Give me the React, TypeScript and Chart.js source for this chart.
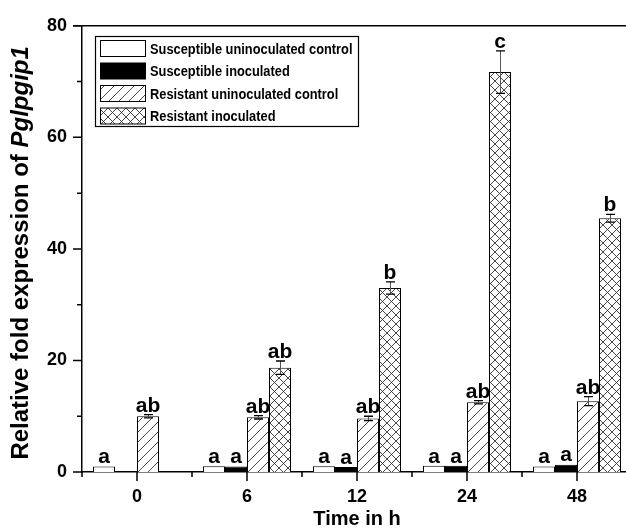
import React, { useEffect, useRef } from "react";
import { Chart, registerables } from "chart.js";

Chart.register(...registerables);

const categories = ["0", "6", "12", "24", "48"];
const seriesNames = [
  "Susceptible uninoculated control",
  "Susceptible inoculated",
  "Resistant uninoculated control",
  "Resistant inoculated",
];
const suscUninoc = [1.0, 1.05, 1.05, 1.1, 1.0];
const suscInoc = [null, 1.0, 0.9, 1.1, 1.3];
const resUninoc = [10.0, 9.8, 9.6, 12.5, 12.7];
const resInoc = [null, 18.7, 33.0, 71.7, 45.5];

const suscUninocErr = [0.05, 0.05, 0.05, 0.05, 0.05];
const suscInocErr = [null, 0.05, 0.05, 0.05, 0.05];
const resUninocErr = [0.3, 0.3, 0.4, 0.3, 0.8];
const resInocErr = [null, 1.2, 1.1, 3.8, 0.7];

const suscUninocLetters = ["a", "a", "a", "a", "a"];
const suscInocLetters = ["", "a", "a", "a", "a"];
const resUninocLetters = ["ab", "ab", "ab", "ab", "ab"];
const resInocLetters = ["", "ab", "b", "c", "b"];

const yTicksMajor = [0, 20, 40, 60, 80];
const yTicksMinor = [10, 30, 50, 70];

const FONT = "Arial, 'Liberation Sans', sans-serif";

function makeDiag(): CanvasPattern | string {
  const c = document.createElement("canvas");
  const s = 10;
  c.width = s;
  c.height = s;
  const g = c.getContext("2d")!;
  g.fillStyle = "#fff";
  g.fillRect(0, 0, s, s);
  g.strokeStyle = "#333";
  g.lineWidth = 0.9;
  g.beginPath();
  g.moveTo(-1, s + 1);
  g.lineTo(s + 1, -1);
  g.moveTo(-1, 1);
  g.lineTo(1, -1);
  g.moveTo(s - 1, s + 1);
  g.lineTo(s + 1, s - 1);
  g.stroke();
  const p = g.createPattern(c, "repeat");
  return p || "#fff";
}

function makeCross(): CanvasPattern | string {
  const c = document.createElement("canvas");
  const s = 9;
  c.width = s;
  c.height = s;
  const g = c.getContext("2d")!;
  g.fillStyle = "#fff";
  g.fillRect(0, 0, s, s);
  g.strokeStyle = "#333";
  g.lineWidth = 0.9;
  g.beginPath();
  g.moveTo(-1, s + 1);
  g.lineTo(s + 1, -1);
  g.moveTo(-1, -1);
  g.lineTo(s + 1, s + 1);
  g.stroke();
  const p = g.createPattern(c, "repeat");
  return p || "#fff";
}

const errs = [suscUninocErr, suscInocErr, resUninocErr, resInocErr];
const letters = [suscUninocLetters, suscInocLetters, resUninocLetters, resInocLetters];

const decorPlugin = {
  id: "decor",
  afterDatasetsDraw(chart: any) {
    const ctx = chart.ctx as CanvasRenderingContext2D;
    const y = chart.scales.y;
    ctx.save();
    chart.data.datasets.forEach((ds: any, di: number) => {
      const meta = chart.getDatasetMeta(di);
      meta.data.forEach((bar: any, i: number) => {
        const v = ds.data[i];
        if (v === null || v === undefined) return;
        const e = errs[di][i] || 0;
        const cx = bar.x;
        const yt = y.getPixelForValue(v + e);
        const yb = y.getPixelForValue(v - e);
        if (e > 0.2) {
          ctx.strokeStyle = "#555";
          ctx.lineWidth = 1;
          ctx.beginPath();
          ctx.moveTo(cx + 0.5, yt);
          ctx.lineTo(cx + 0.5, yb);
          ctx.stroke();
          ctx.strokeStyle = "#000";
          ctx.lineWidth = 1.3;
          ctx.beginPath();
          ctx.moveTo(cx - 4, yt);
          ctx.lineTo(cx + 5, yt);
          ctx.moveTo(cx - 4, yb);
          ctx.lineTo(cx + 5, yb);
          ctx.stroke();
        }
        const L = letters[di][i];
        if (L) {
          ctx.fillStyle = "#000";
          ctx.font = `bold 21px ${FONT}`;
          ctx.textAlign = "center";
          ctx.textBaseline = "alphabetic";
          ctx.fillText(L, cx, Math.min(yt, bar.y) - 3);
        }
      });
    });
    ctx.restore();
  },
  afterDraw(chart: any) {
    const ctx = chart.ctx as CanvasRenderingContext2D;
    const x = chart.scales.x;
    const y = chart.scales.y;
    const area = chart.chartArea;
    ctx.save();
    ctx.strokeStyle = "#000";
    ctx.lineWidth = 1.5;
    ctx.beginPath();
    ctx.moveTo(area.left - 9, area.top);
    ctx.lineTo(area.right, area.top);
    ctx.lineTo(area.right, area.bottom);
    ctx.stroke();
    ctx.beginPath();
    ctx.moveTo(area.left, area.bottom);
    ctx.lineTo(area.left, area.bottom + 5);
    ctx.stroke();
    ctx.beginPath();
    yTicksMajor.forEach((t) => {
      const py = y.getPixelForValue(t);
      ctx.moveTo(area.left - 9, py);
      ctx.lineTo(area.left, py);
    });
    yTicksMinor.forEach((t) => {
      const py = y.getPixelForValue(t);
      ctx.moveTo(area.left - 5, py);
      ctx.lineTo(area.left, py);
    });
    categories.forEach((c, i) => {
      const px = x.getPixelForValue(i);
      ctx.moveTo(px, area.bottom);
      ctx.lineTo(px, area.bottom + 9);
      const pb = x.getPixelForValue(i + 0.5);
      ctx.moveTo(pb, area.bottom);
      ctx.lineTo(pb, area.bottom + 5);
    });
    ctx.stroke();

    // y-axis title
    ctx.fillStyle = "#000";
    ctx.translate(21, (area.top + area.bottom) / 2 + 4);
    ctx.rotate(-Math.PI / 2);
    const part1 = "Relative fold expression of ";
    const part2 = "Pglpgip1";
    const fs = 24;
    ctx.font = `bold ${fs}px ${FONT}`;
    const w1 = ctx.measureText(part1).width;
    ctx.font = `italic bold ${fs}px ${FONT}`;
    const w2 = ctx.measureText(part2).width;
    const start = -(w1 + w2) / 2;
    ctx.textBaseline = "middle";
    ctx.textAlign = "left";
    ctx.font = `bold ${fs}px ${FONT}`;
    ctx.fillText(part1, start, 0);
    ctx.font = `italic bold ${fs}px ${FONT}`;
    ctx.fillText(part2, start + w1, 0);
    ctx.setTransform(1, 0, 0, 1, 0, 0);

    // legend
    const lx = 95.5;
    const ly = 36.5;
    const lw = 263;
    const lh = 90;
    ctx.fillStyle = "#fff";
    ctx.fillRect(lx, ly, lw, lh);
    ctx.lineWidth = 1.2;
    ctx.strokeStyle = "#000";
    ctx.strokeRect(lx, ly, lw, lh);
    const rows = [48.5, 71, 93.5, 116];
    chart.data.datasets.forEach((ds: any, di: number) => {
      const ry = rows[di];
      ctx.fillStyle = ds.backgroundColor;
      ctx.fillRect(100.5, ry - 8, 45, 16);
      ctx.lineWidth = 1;
      ctx.strokeStyle = "#000";
      ctx.strokeRect(100.5, ry - 8, 45, 16);
      ctx.fillStyle = "#000";
      ctx.font = `bold 14.5px ${FONT}`;
      ctx.textAlign = "left";
      ctx.textBaseline = "middle";
      ctx.save();
      ctx.translate(150, ry + 1);
      ctx.scale(0.885, 1);
      ctx.fillText(ds.label, 0, 0);
      ctx.restore();
    });
    ctx.restore();
  },
};

export default function App() {
  const ref = useRef<HTMLCanvasElement | null>(null);
  useEffect(() => {
    if (!ref.current) return;
    const diag = makeDiag();
    const cross = makeCross();
    const bgs: any[] = ["#ffffff", "#000000", diag, cross];
    const values = [suscUninoc, suscInoc, resUninoc, resInoc];
    const chart = new Chart(ref.current, {
      type: "bar",
      data: {
        labels: categories,
        datasets: values.map((d, i) => ({
          label: seriesNames[i],
          data: d as any,
          backgroundColor: bgs[i],
          borderColor: "#000",
          borderWidth: 1,
          categoryPercentage: 0.8,
          barPercentage: 1.0,
        })),
      },
      options: {
        animation: false,
        responsive: false,
        devicePixelRatio: 1,
        layout: { padding: { left: 0, top: 23, right: 8, bottom: 0 } },
        plugins: {
          legend: { display: false },
          tooltip: { enabled: false },
        },
        scales: {
          x: {
            grid: { display: false, drawTicks: false },
            border: { display: true, color: "#000", width: 1.5 },
            ticks: {
              color: "#000",
              font: { family: FONT, size: 18, weight: "bold" },
              padding: 14,
            },
            title: {
              display: true,
              text: "Time in h",
              color: "#000",
              font: { family: FONT, size: 20, weight: "bold" },
              padding: { top: 0, bottom: 0 },
            },
            afterFit(scale: any) {
              scale.height = 59;
            },
          },
          y: {
            min: 0,
            max: 80,
            grid: { display: false, drawTicks: false },
            border: { display: true, color: "#000", width: 1.5 },
            ticks: {
              stepSize: 20,
              color: "#000",
              font: { family: FONT, size: 18, weight: "bold" },
              padding: 15,
            },
            afterFit(scale: any) {
              scale.width = 82;
            },
          },
        },
      },
      plugins: [decorPlugin],
    });
    return () => chart.destroy();
  }, []);
  return (
    <div
      style={{
        position: "absolute",
        left: 0,
        top: 0,
        width: 626,
        height: 531,
        overflow: "hidden",
        background: "#fff",
      }}
    >
      <canvas ref={ref} width={640} height={531} style={{ width: 640, height: 531 }} />
    </div>
  );
}
